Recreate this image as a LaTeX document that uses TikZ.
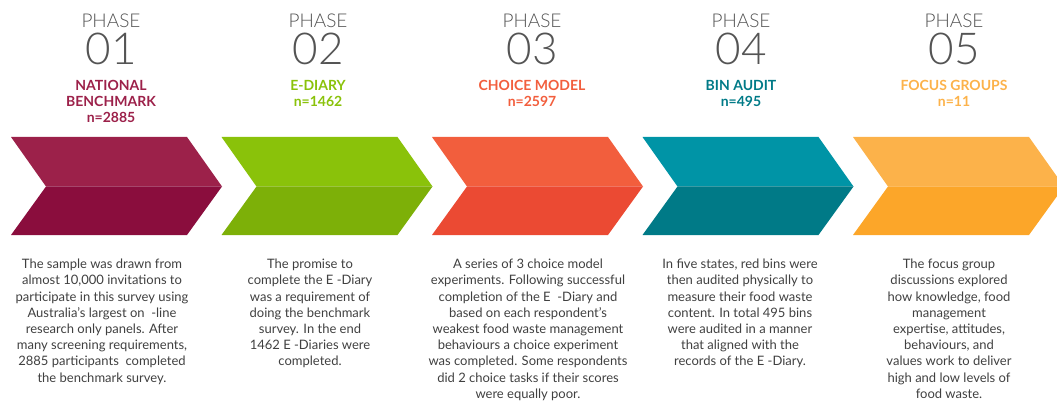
\documentclass[tikz,border=0pt]{standalone}
\usepackage{fontspec}
\setmainfont{Lato}
\newfontfamily\thinfont{Lato}[UprightFont={* Light}]
\usepackage{xcolor}
\definecolor{benchtop}{rgb}{.61,.13,.29}
\definecolor{benchbot}{rgb}{.54,.05,.24}
\definecolor{diarytop}{rgb}{.54,.76,.04}
\definecolor{diarybot}{rgb}{.49,.69,.03}
\definecolor{choicetop}{rgb}{.95,.37,.24}
\definecolor{choicebot}{rgb}{.92,.29,.20}
\definecolor{bintop}{rgb}{0,.58,.65}
\definecolor{binbot}{rgb}{0,.48,.53}
\definecolor{focustop}{rgb}{.99,.70,.29}
\definecolor{focusbot}{rgb}{.99,.65,.16}
\definecolor{headgray}{rgb}{.33,.33,.33}
\definecolor{textgray}{rgb}{.25,.25,.25}
\usetikzlibrary{positioning}

\begin{document}
\begin{tikzpicture}[x=1pt, y=-1pt, line join=round]
   \tikzstyle{phase}=[inner sep=0pt, text=headgray, font=\thinfont\fontsize{19}{19}\selectfont]
   \tikzstyle{number}=[inner sep=0pt, text=headgray, font=\thinfont\fontsize{44}{44}\selectfont]
   \tikzstyle{title}=[inner sep=0pt, align=center, font=\fontsize{14}{16}\selectfont\bfseries]
   \tikzstyle{blurb}=[inner sep=0pt, anchor=north, align=center, text=textgray, font=\fontsize{13}{16.2}\selectfont]

   \useasboundingbox (0,0) rectangle (1057,406);

   % chevrons, light top half and dark bottom half
   \fill[benchtop] (11,137) -- ++(176,0) -- ++(35,49.5) -- ++(-176,0) -- cycle;
   \fill[benchbot] (46,186.5) -- ++(176,0) -- ++(-35,48.5) -- ++(-176,0) -- cycle;
   \fill[diarytop] (221.5,137) -- ++(176,0) -- ++(35,49.5) -- ++(-176,0) -- cycle;
   \fill[diarybot] (256.5,186.5) -- ++(176,0) -- ++(-35,48.5) -- ++(-176,0) -- cycle;
   \fill[choicetop] (432,137) -- ++(176,0) -- ++(35,49.5) -- ++(-176,0) -- cycle;
   \fill[choicebot] (467,186.5) -- ++(176,0) -- ++(-35,48.5) -- ++(-176,0) -- cycle;
   \fill[bintop] (642.5,137) -- ++(176,0) -- ++(35,49.5) -- ++(-176,0) -- cycle;
   \fill[binbot] (677.5,186.5) -- ++(176,0) -- ++(-35,48.5) -- ++(-176,0) -- cycle;
   \fill[focustop] (853,137) -- ++(176,0) -- ++(35,49.5) -- ++(-176,0) -- cycle;
   \fill[focusbot] (888,186.5) -- ++(176,0) -- ++(-35,48.5) -- ++(-176,0) -- cycle;

   % headings
   \node[phase] (phase1) at (111,21) {PHASE};
   \node[number] (num1) [below=5pt of phase1] {01};
   \node[title, text=benchtop] (title1) [below=15pt of num1] {NATIONAL\\BENCHMARK\\n=2885};

   \node[phase] (phase2) at (318,21) {PHASE};
   \node[number] (num2) [below=5pt of phase2] {02};
   \node[title, text=diarytop] (title2) [below=15pt of num2] {E-DIARY\\n=1462};

   \node[phase] (phase3) at (532,21) {PHASE};
   \node[number] (num3) [below=5pt of phase3] {03};
   \node[title, text=choicetop] (title3) [below=15pt of num3] {CHOICE MODEL\\n=2597};

   \node[phase] (phase4) at (741,21) {PHASE};
   \node[number] (num4) [below=5pt of phase4] {04};
   \node[title, text=binbot] (title4) [below=15pt of num4] {BIN AUDIT\\n=495};

   \node[phase] (phase5) at (954,21) {PHASE};
   \node[number] (num5) [below=5pt of phase5] {05};
   \node[title, text=focustop] (title5) [below=15pt of num5] {FOCUS GROUPS\\n=11};

   % descriptions
   \node[blurb] (blurb1) at (102,259) {The sample was drawn from\\almost 10,000 invitations to\\participate in this survey using\\Australia’s largest on \ -line\\research only panels. After\\many screening requirements,\\2885 participants \ completed\\the benchmark survey.};
   \node[blurb] (blurb2) at (310,259) {The promise to\\complete the E -Diary\\was a requirement of\\doing the benchmark\\survey. In the end\\1462 E -Diaries were\\completed.};
   \node[blurb] (blurb3) at (528,259) {A series of 3 choice model\\experiments. Following successful\\completion of the E \ -Diary and\\based on each respondent's\\weakest food waste management\\behaviours a choice experiment\\was completed. Some respondents\\did 2 choice tasks if their scores\\were equally poor.};
   \node[blurb] (blurb4) at (740,259) {In five states, red bins were\\then audited physically to\\measure their food waste\\content. In total 495 bins\\were audited in a manner\\that aligned with the\\records of the E -Diary.};
   \node[blurb] (blurb5) at (949,259) {The focus group\\discussions explored\\how knowledge, food\\management\\expertise, attitudes,\\behaviours, and\\values work to deliver\\high and low levels of\\food waste.};
\end{tikzpicture}
\end{document}
